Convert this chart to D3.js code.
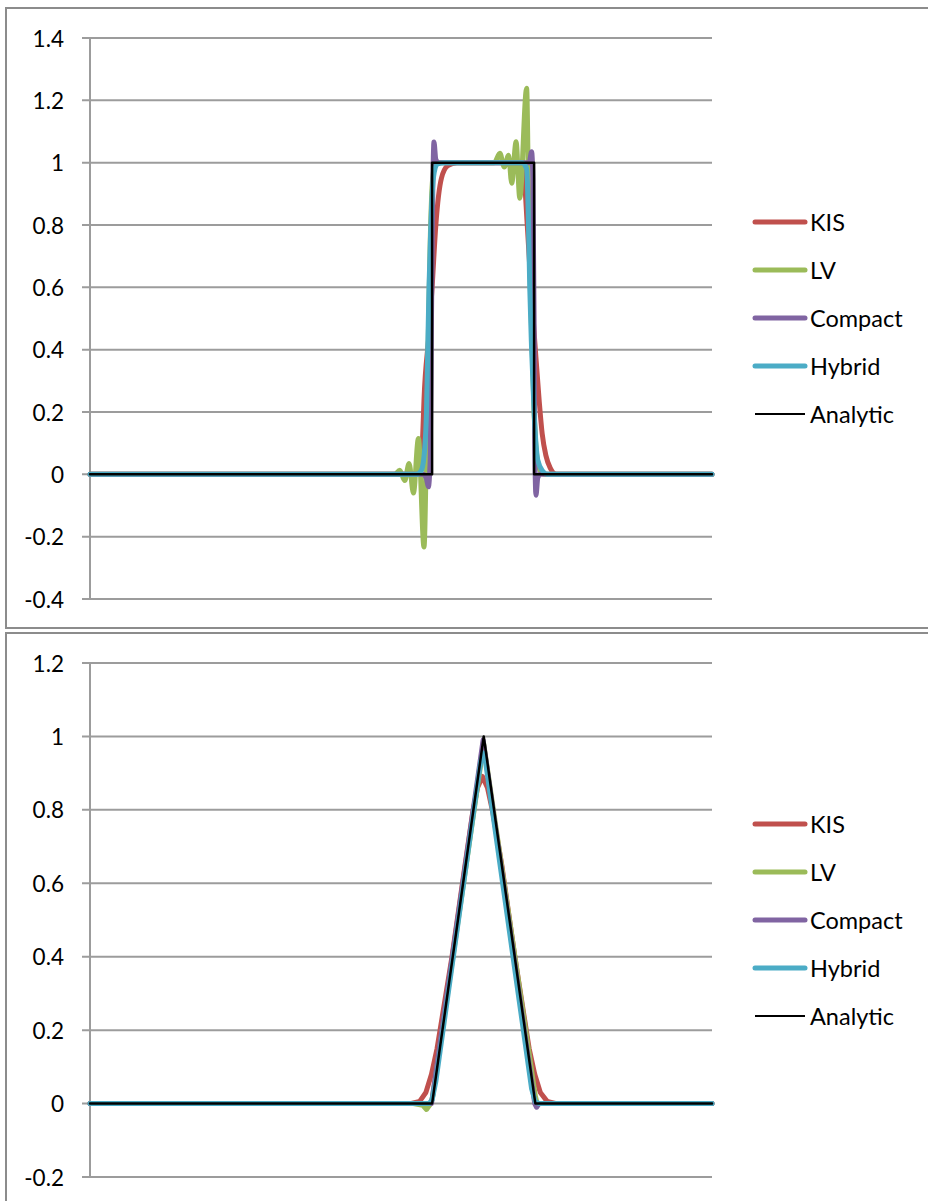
<!DOCTYPE html>
<html>
<head>
<meta charset="utf-8">
<script src="https://cdn.jsdelivr.net/npm/d3@7"></script>
<style>
  html, body { margin: 0; padding: 0; background: #fff; }
  svg { display: block; }
  text { font-family: Lato, "Open Sans", sans-serif; fill: #000; }
</style>
</head>
<body>
<svg id="chart" width="928" height="1201"></svg>
<script>
// ---------------- DATA ----------------
const seriesNames = ["KIS", "LV", "Compact", "Hybrid", "Analytic"];
const yTicksTop = [-0.4, -0.2, 0, 0.2, 0.4, 0.6, 0.8, 1, 1.2, 1.4];
const yTicksBottom = [-0.2, 0, 0.2, 0.4, 0.6, 0.8, 1, 1.2];

// Top panel: square wave  [x, value]
const squareKIS = [[0,0],[0.525,0],[0.532,0.02],[0.535,0.13],[0.537,0.24],[0.545,0.45],[0.550,0.6],[0.556,0.8],[0.565,0.95],[0.575,0.99],[0.590,1.0],
  [0.690,1.0],[0.697,0.97],[0.703,0.8],[0.709,0.6],[0.716,0.4],[0.722,0.24],[0.727,0.13],[0.733,0.06],[0.740,0.02],[0.750,0],[1,0]];
const squareLV = [[0,0],[0.490,0],[0.498,0.013],[0.506,-0.02],[0.513,0.035],[0.520,-0.06],[0.528,0.115],[0.537,-0.233],[0.541,0.1],[0.544,0.45],[0.547,0.75],[0.551,0.95],[0.556,1.0],
  [0.650,1.0],[0.659,1.03],[0.666,0.986],[0.673,1.024],[0.678,0.934],[0.685,1.067],[0.691,0.886],[0.702,1.239],[0.705,0.9],[0.708,0.6],[0.711,0.4],[0.714,0.2],[0.719,0.05],[0.726,0.005],[0.732,0],[1,0]];
const squareCompact = [[0,0],[0.536,0],[0.541,-0.015],[0.544,-0.04],[0.547,0.05],[0.549,0.5],[0.551,0.9],[0.553,1.066],[0.556,1.01],[0.560,1.0],
  [0.706,1.0],[0.710,1.035],[0.712,0.95],[0.714,0.5],[0.715,0.1],[0.717,-0.067],[0.720,-0.01],[0.724,0],[1,0]];
const squareHybrid = [[0,0],[0.525,0],[0.532,0.01],[0.536,0.04],[0.541,0.2],[0.543,0.4],[0.545,0.6],[0.548,0.8],[0.552,0.95],[0.558,0.995],[0.570,1.0],
  [0.695,1.0],[0.702,0.98],[0.705,0.8],[0.707,0.6],[0.710,0.4],[0.714,0.2],[0.720,0.045],[0.728,0.01],[0.736,0],[1,0]];
const squareAnalytic = [[0,0],[0.550,0],[0.550,1],[0.714,1],[0.714,0],[1,0]];

// Bottom panel: triangle wave
const triKIS = [[0,0],[0.515,0],[0.530,0.006],[0.540,0.03],[0.549,0.08],[0.558,0.15],[0.582,0.4],[0.603,0.65],[0.615,0.79],[0.623,0.86],[0.631,0.891],
  [0.639,0.86],[0.648,0.79],[0.662,0.65],[0.683,0.4],[0.706,0.15],[0.715,0.08],[0.724,0.03],[0.735,0.006],[0.750,0],[1,0]];
const triLV = [[0,0],[0.520,0],[0.535,-0.005],[0.541,-0.016],[0.548,0],[0.551,0.02],[0.633,0.98],[0.716,0.02],[0.719,0],[1,0]];
const triCompact = [[0,0],[0.549,0],[0.632,0.99],[0.715,0],[0.718,-0.01],[0.722,0],[1,0]];
const triHybrid = [[0,0],[0.545,0],[0.550,0.01],[0.556,0.06],[0.628,0.93],[0.632,0.955],[0.636,0.93],[0.710,0.04],[0.716,0.005],[0.722,0],[1,0]];
const triAnalytic = [[0,0],[0.550,0],[0.633,1],[0.716,0],[1,0]];

// ---------------- STYLE ----------------
const colors = {KIS:"#C0504D", LV:"#9BBB59", Compact:"#8064A2", Hybrid:"#4BACC6", Analytic:"#000000"};
const widths = {KIS:5, LV:5, Compact:5, Hybrid:5, Analytic:2.5};
const gridColor = "#9c9c9c";

const svg = d3.select("#chart");

function panel(cfg) {
  const g = svg.append("g");
  g.append("rect").attr("x", cfg.box[0]).attr("y", cfg.box[1])
    .attr("width", cfg.box[2]).attr("height", cfg.box[3])
    .attr("fill", "none").attr("stroke", "#8c8c8c").attr("stroke-width", 2);

  const x = d3.scaleLinear().domain([0, 1]).range([90, 712]);
  const y = d3.scaleLinear().domain(cfg.yDomain).range(cfg.yRange);

  g.append("g").selectAll("line").data(cfg.ticks).join("line")
    .attr("x1", 82).attr("x2", 712)
    .attr("y1", d => y(d)).attr("y2", d => y(d))
    .attr("stroke", gridColor).attr("stroke-width", 2);
  g.append("line").attr("x1", 90).attr("x2", 90)
    .attr("y1", y(cfg.yDomain[0])).attr("y2", y(cfg.yDomain[1]))
    .attr("stroke", gridColor).attr("stroke-width", 2);
  g.append("g").selectAll("text").data(cfg.ticks).join("text")
    .attr("x", 64).attr("y", d => y(d))
    .attr("text-anchor", "end").attr("dominant-baseline", "central")
    .style("font-size", "22.5px")
    .text(d => String(d));

  const curve = cfg.smooth ? d3.curveMonotoneX : d3.curveLinear;
  const line = d3.line().x(d => x(d[0])).y(d => y(d[1]));
  const curved = d3.line().x(d => x(d[0])).y(d => y(d[1])).curve(curve);

  cfg.series.forEach((data, i) => {
    const name = seriesNames[i];
    g.append("path").datum(data)
      .attr("d", name === "Analytic" ? line : curved)
      .attr("fill", "none").attr("stroke", colors[name])
      .attr("stroke-width", widths[name])
      .attr("stroke-linejoin", "round").attr("stroke-linecap", "round");
  });

  const lg = g.append("g");
  seriesNames.forEach((name, i) => {
    const ly = cfg.legendY + i * 48;
    lg.append("line").attr("x1", 755).attr("x2", 805).attr("y1", ly).attr("y2", ly)
      .attr("stroke", colors[name])
      .attr("stroke-width", name === "Analytic" ? 2 : 5)
      .attr("stroke-linecap", name === "Analytic" ? "butt" : "round");
    lg.append("text").attr("x", 810).attr("y", ly)
      .attr("dominant-baseline", "central").style("font-size", "23.5px").text(name);
  });
}

panel({
  box: [6, 8, 940, 620],
  yDomain: [-0.4, 1.4], yRange: [599, 38],
  ticks: yTicksTop,
  series: [squareKIS, squareLV, squareCompact, squareHybrid, squareAnalytic],
  legendY: 222, smooth: true
});
panel({
  box: [6, 633, 940, 600],
  yDomain: [-0.2, 1.2], yRange: [1177, 663],
  ticks: yTicksBottom,
  series: [triKIS, triLV, triCompact, triHybrid, triAnalytic],
  legendY: 824, smooth: false
});
</script>
</body>
</html>
